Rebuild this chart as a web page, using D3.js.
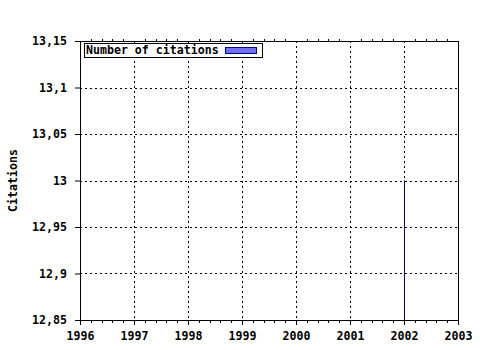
<!DOCTYPE html>
<html>
<head>
<meta charset="utf-8">
<script src="https://cdn.jsdelivr.net/npm/d3@7"></script>
<style>
  body { margin: 0; background: #fff; }
  text { font-family: "DejaVu Sans Mono", monospace; font-weight: bold; font-size: 11.6px; }
</style>
</head>
<body>
<div id="chart"></div>
<script>
// data
var years = [2002];
var citations = [13];
var xTicks = [1996, 1997, 1998, 1999, 2000, 2001, 2002, 2003];
var yTicks = [12.85, 12.9, 12.95, 13, 13.05, 13.1, 13.15];
var seriesName = "Number of citations";

var margin = { top: 41, right: 22, bottom: 30, left: 80 };
var width = 480 - margin.left - margin.right;
var height = 350 - margin.top - margin.bottom;

var svg = d3.select("#chart")
    .append("svg")
    .attr("width", 480)
    .attr("height", 350)
    .append("g")
    .attr("transform", "translate(" + margin.left + "," + margin.top + ")");

var x = d3.scaleLinear().domain([1996, 2003]).range([0, width]);
var y = d3.scaleLinear().domain([12.85, 13.15]).range([height, 0]);

// dotted grid
svg.selectAll(".vgrid")
    .data(xTicks.slice(1, -1))
    .enter().append("line")
    .attr("x1", d => Math.round(x(d)) + 0.5)
    .attr("x2", d => Math.round(x(d)) + 0.5)
    .attr("y1", 0).attr("y2", height)
    .attr("stroke", "#000")
    .attr("stroke-dasharray", "2,3");

svg.selectAll(".hgrid")
    .data(yTicks.slice(1, -1))
    .enter().append("line")
    .attr("y1", d => Math.round(y(d)) + 0.5)
    .attr("y2", d => Math.round(y(d)) + 0.5)
    .attr("x1", 0).attr("x2", width)
    .attr("stroke", "#000")
    .attr("stroke-dasharray", "2,3");

// bars
svg.selectAll(".bar")
    .data(years)
    .enter().append("rect")
    .attr("class", "bar")
    .attr("x", d => Math.round(x(d)))
    .attr("width", 1)
    .attr("y", (d, i) => y(citations[i]))
    .attr("height", (d, i) => height - y(citations[i]))
    .attr("fill", "#000080");

// axes
var xAxis = d3.axisBottom(x).tickValues(xTicks).tickFormat(d3.format("d")).tickSize(5);
var yAxis = d3.axisLeft(y).tickValues(yTicks).tickFormat(d => String(d).replace(".", ",")).tickSize(5);

var gx = svg.append("g")
    .attr("transform", "translate(0," + height + ")")
    .call(xAxis);
gx.selectAll("text").attr("dy", "1.05em").style("font-size", "11.6px");

var gy = svg.append("g").call(yAxis);
gy.selectAll("text").attr("x", -13).style("font-size", "11.6px");

svg.selectAll(".domain").remove();

// minor ticks on top and bottom
var minor = d3.range(1996, 2003.001, 0.2).filter(d => Math.abs(d - Math.round(d)) > 0.01);
svg.selectAll(".minorB")
    .data(minor)
    .enter().append("line")
    .attr("x1", d => Math.round(x(d)) + 0.5)
    .attr("x2", d => Math.round(x(d)) + 0.5)
    .attr("y1", height).attr("y2", height + 3)
    .attr("stroke", "#000");
svg.selectAll(".minorT")
    .data(minor)
    .enter().append("line")
    .attr("x1", d => Math.round(x(d)) + 0.5)
    .attr("x2", d => Math.round(x(d)) + 0.5)
    .attr("y1", -2).attr("y2", 0)
    .attr("stroke", "#000");

// frame
svg.append("rect")
    .attr("x", 0.5).attr("y", 0.5)
    .attr("width", width).attr("height", height)
    .attr("fill", "none")
    .attr("stroke", "#000");

// y title
svg.append("text")
    .attr("transform", "translate(" + (-63) + "," + (height / 2) + ") rotate(-90)")
    .attr("text-anchor", "middle")
    .text("Citations");

// legend
var legend = svg.append("g").attr("transform", "translate(4,2)");
legend.append("rect")
    .attr("x", 0.5).attr("y", 0.5)
    .attr("width", 178).attr("height", 14)
    .attr("fill", "#fff")
    .attr("stroke", "#000");
legend.append("text")
    .attr("x", 2).attr("y", 11)
    .text(seriesName);
legend.append("rect")
    .attr("x", 141.5).attr("y", 4.5)
    .attr("width", 31).attr("height", 6)
    .attr("fill", "#7070f0")
    .attr("stroke", "#000080");
</script>
</body>
</html>
